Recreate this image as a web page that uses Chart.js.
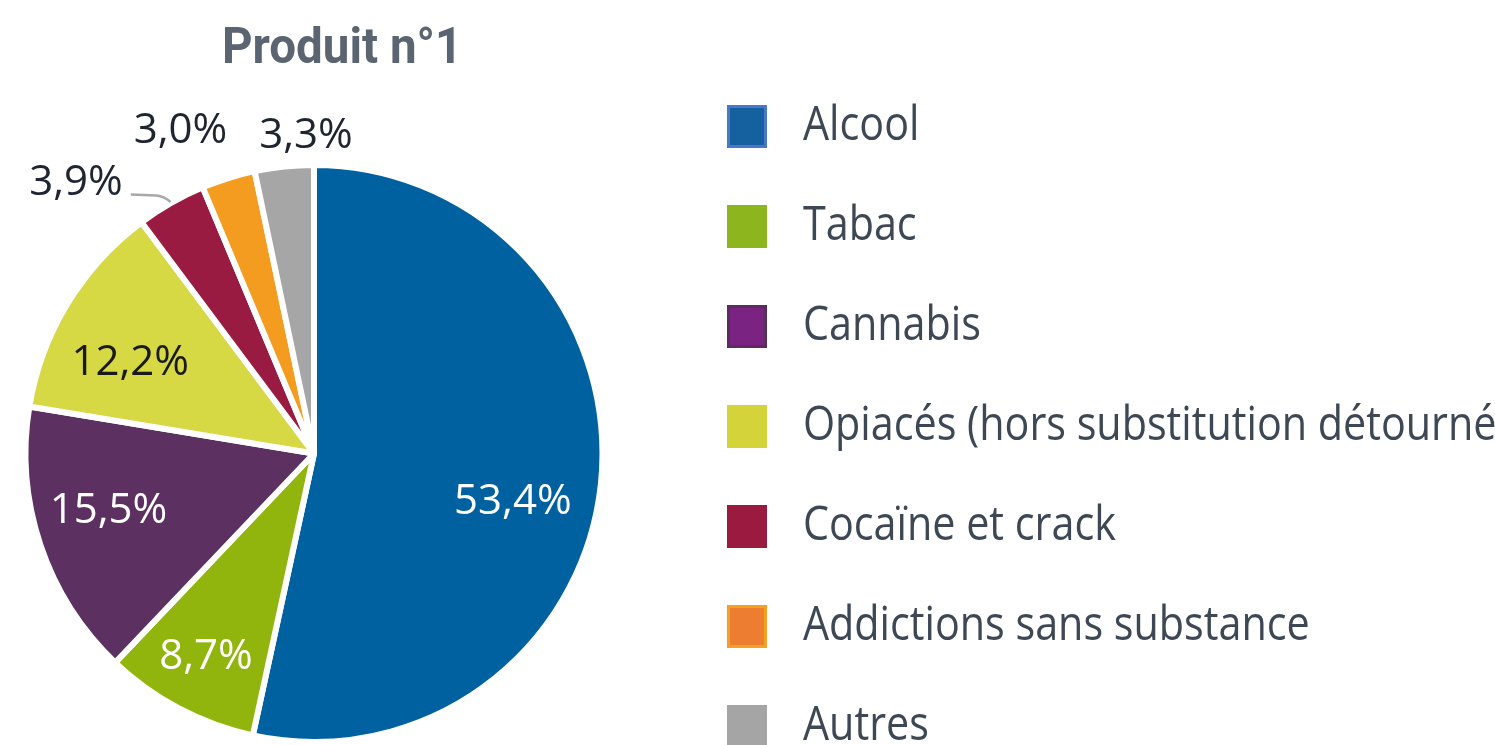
<!DOCTYPE html>
<html>
<head>
<meta charset="utf-8">
<script src="https://cdn.jsdelivr.net/npm/chart.js@4"></script>
<style>
  html, body { margin: 0; padding: 0; background: #ffffff; overflow: hidden; }
  canvas { display: block; }
</style>
</head>
<body>
<canvas id="c" width="1495" height="745"></canvas>
<script>
// ---- Data ----
const categories = [
  "Alcool",
  "Tabac",
  "Cannabis",
  "Opiacés (hors substitution détournée)",
  "Cocaïne et crack",
  "Addictions sans substance",
  "Autres"
];
const values = [53.4, 8.7, 15.5, 12.2, 3.9, 3.0, 3.3];
const valueLabels = ["53,4%", "8,7%", "15,5%", "12,2%", "3,9%", "3,0%", "3,3%"];
const chartTitle = "Produit n°1";

// ---- Styles ----
const sliceColors = ["#0061a0", "#92b50e", "#5c3060", "#d6d844", "#9a1b42", "#f39c1f", "#a6a6a6"];
const legendFill   = ["#15609e", "#8db61e", "#7b2383", "#d4d43a", "#9a1a40", "#ed7d31", "#a5a5a5"];
const legendBorder = ["#4a78c8", "#8db61e", "#5b2c5e", "#d4d43a", "#9a1a40", "#f5a020", "#a5a5a5"];
const labelColors = ["#ffffff", "#ffffff", "#ffffff", "#1a1a1a", "#1e2430", "#1e2430", "#1e2430"];
// label placement: radius fraction and angle shift (degrees) from slice middle
const labelRadius = [0.71, 0.80, 0.74, 0.71, 1.25, 1.21, 1.10];
const labelShift  = [7.7, 0, 2.8, -5.1, -11.6, -5.2, 4.5];
const leaderFor = [4];

const labelsPlugin = {
  id: 'customLabels',
  afterDatasetsDraw(chart) {
    const ctx = chart.ctx;
    const meta = chart.getDatasetMeta(0);
    ctx.save();
    ctx.font = "42px 'Open Sans'";
    ctx.textAlign = 'center';
    ctx.textBaseline = 'middle';
    meta.data.forEach((arc, i) => {
      const p = arc.getProps(['x', 'y', 'startAngle', 'endAngle', 'outerRadius'], true);
      const mid = (p.startAngle + p.endAngle) / 2;
      const a = mid + labelShift[i] * Math.PI / 180;
      const r = p.outerRadius * labelRadius[i];
      const lx = p.x + Math.cos(a) * r;
      const ly = p.y + Math.sin(a) * r;
      if (leaderFor.includes(i)) {
        const w = ctx.measureText(valueLabels[i]).width;
        const ex = p.x + Math.cos(mid) * (p.outerRadius + 1);
        const ey = p.y + Math.sin(mid) * (p.outerRadius + 1);
        ctx.strokeStyle = '#a8a8a8';
        ctx.lineWidth = 2.5;
        ctx.beginPath();
        ctx.moveTo(lx + w / 2 + 8, ly + 12);
        ctx.lineTo(ex - 14, ly + 13);
        ctx.quadraticCurveTo(ex - 6, ly + 14, ex, ey);
        ctx.stroke();
      }
      ctx.fillStyle = labelColors[i];
      ctx.fillText(valueLabels[i], lx, ly);
    });
    ctx.restore();
  },
  afterDraw(chart) {
    const ctx = chart.ctx;
    ctx.save();
    // title
    ctx.fillStyle = '#5b6571';
    ctx.font = "700 50px Roboto";
    ctx.textBaseline = 'alphabetic';
    ctx.textAlign = 'left';
    ctx.translate(222, 63);
    ctx.scale(0.95, 1);
    ctx.fillText(chartTitle, 0, 0);
    ctx.restore();

    // legend
    ctx.save();
    chart.data.labels.forEach((lab, i) => {
      const top = 105 + i * 100;
      ctx.fillStyle = legendBorder[i];
      ctx.fillRect(727, top, 40, 43);
      ctx.fillStyle = legendFill[i];
      ctx.fillRect(730, top + 3, 34, 37);
      ctx.save();
      ctx.fillStyle = '#3e4854';
      ctx.font = "48px 'Open Sans'";
      ctx.textBaseline = 'alphabetic';
      ctx.textAlign = 'left';
      ctx.translate(803, top + 35);
      ctx.scale(0.86, 1);
      ctx.fillText(lab, 0, 0);
      ctx.restore();
    });
    ctx.restore();
  }
};

new Chart(document.getElementById('c'), {
  type: 'pie',
  data: {
    labels: categories,
    datasets: [{
      data: values,
      backgroundColor: sliceColors,
      borderColor: '#ffffff',
      borderWidth: 6,
      hoverOffset: 0
    }]
  },
  options: {
    responsive: false,
    animation: false,
    rotation: 0,
    layout: { padding: { left: 21, right: 888, top: 162, bottom: -3 } },
    plugins: {
      legend: { display: false },
      tooltip: { enabled: false },
      title: { display: false }
    }
  },
  plugins: [labelsPlugin]
});
</script>
</body>
</html>
